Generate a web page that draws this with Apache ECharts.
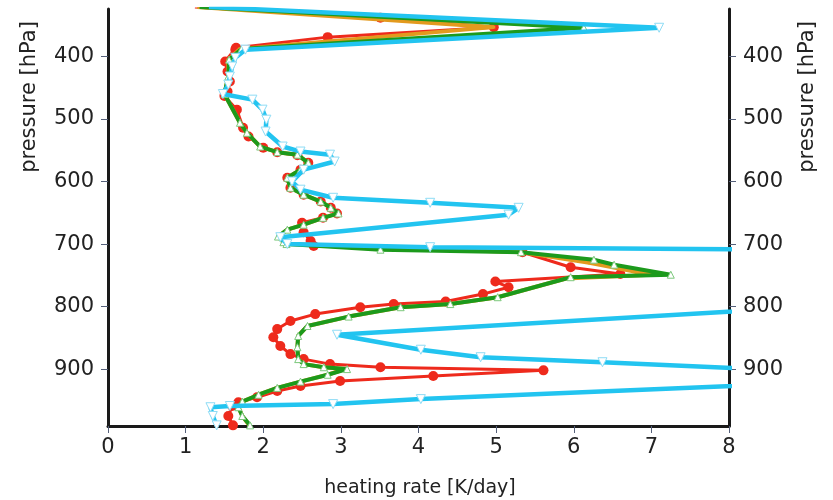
<!DOCTYPE html>
<html><head><meta charset="utf-8">
<script src="https://cdn.jsdelivr.net/npm/echarts@6/dist/echarts.min.js"></script>
<style>html,body{margin:0;padding:0;background:#fff}#c{width:833px;height:500px}</style>
</head><body><div id="c"></div>
<script>
// tick labels
const xTicks = [0, 1, 2, 3, 4, 5, 6, 7, 8];
const pTicks = [400, 500, 600, 700, 800, 900];
const xName = 'heating rate [K/day]';
const yName = 'pressure [hPa]';

// cyan series (pressure hPa, heating rate K/day)
const pCyan = [321, 354, 389, 402, 416, 432, 445, 460, 469, 485, 501, 520, 544, 552, 557, 568, 581, 600, 613, 626, 634, 642, 653, 689, 700, 705, 719, 845, 869, 881, 889, 913, 948, 956, 959, 961, 975, 990];
const hCyan = [1.30, 7.10, 1.77, 1.64, 1.60, 1.57, 1.55, 1.48, 1.86, 1.99, 2.04, 2.03, 2.25, 2.48, 2.86, 2.92, 2.52, 2.37, 2.48, 2.90, 4.15, 5.29, 5.16, 2.22, 2.31, 4.15, 20.2, 2.95, 4.03, 4.80, 6.37, 10.7, 4.03, 2.90, 1.57, 1.32, 1.35, 1.40];

// red series
const pRed = [321, 338, 353, 369, 386, 389, 408, 424, 440, 456, 463, 485, 514, 528, 546, 553, 558, 570, 581, 594, 610, 621, 632, 642, 651, 658, 666, 681, 695, 703, 713, 737, 748, 760, 769, 780, 792, 796, 801, 812, 823, 836, 849, 863, 876, 884, 892, 897, 902, 911, 919, 927, 935, 945, 953, 959, 975, 990];
const hRed = [1.12, 3.51, 4.97, 2.83, 1.65, 1.64, 1.51, 1.54, 1.57, 1.54, 1.50, 1.66, 1.74, 1.81, 2.00, 2.18, 2.44, 2.58, 2.48, 2.31, 2.35, 2.52, 2.74, 2.87, 2.95, 2.77, 2.50, 2.52, 2.61, 2.65, 5.34, 5.96, 6.60, 4.99, 5.16, 4.83, 4.35, 3.68, 3.25, 2.67, 2.35, 2.18, 2.13, 2.22, 2.35, 2.52, 2.86, 3.51, 5.61, 4.19, 2.99, 2.48, 2.18, 1.92, 1.68, 1.60, 1.55, 1.61];

// orange series
const pOrange = [321, 353, 388, 405, 432, 460, 506, 522, 544, 553, 557, 570, 581, 594, 610, 621, 632, 642, 651, 658, 669, 677, 688, 697, 700, 713, 730, 749, 755, 785, 796, 801, 816, 831, 847, 865, 884, 892, 897, 900, 909, 920, 930, 941, 952, 961, 975, 990];
const hOrange = [1.15, 4.97, 1.70, 1.55, 1.55, 1.50, 1.70, 1.79, 1.96, 2.18, 2.44, 2.58, 2.48, 2.31, 2.35, 2.52, 2.74, 2.87, 2.96, 2.77, 2.52, 2.31, 2.19, 2.26, 2.30, 5.33, 6.20, 7.00, 5.90, 5.02, 4.41, 3.77, 3.10, 2.57, 2.45, 2.44, 2.45, 2.52, 2.78, 3.05, 2.83, 2.48, 2.18, 1.94, 1.73, 1.68, 1.73, 1.82];

// green series
const pGreen = [321, 354, 388, 405, 432, 460, 506, 522, 544, 553, 557, 570, 581, 594, 610, 621, 632, 642, 651, 658, 669, 677, 688, 697, 700, 709, 713, 725, 733, 749, 753, 785, 796, 801, 816, 831, 847, 865, 884, 892, 897, 900, 909, 920, 930, 941, 952, 961, 975, 990];
const hGreen = [1.18, 6.13, 1.72, 1.56, 1.55, 1.50, 1.70, 1.79, 1.96, 2.18, 2.44, 2.58, 2.48, 2.31, 2.35, 2.52, 2.74, 2.87, 2.97, 2.77, 2.52, 2.31, 2.19, 2.26, 2.30, 3.51, 5.32, 6.26, 6.52, 7.25, 5.96, 5.02, 4.41, 3.77, 3.10, 2.57, 2.45, 2.44, 2.45, 2.52, 2.78, 3.08, 2.83, 2.48, 2.18, 1.94, 1.73, 1.68, 1.73, 1.83];

function pairs(h, p) { return h.map((v, i) => [v, p[i]]); }

const FONT = 'DejaVu Sans';
const axisLineStyle = { color: '#1a1a1a', width: 3 };
const tickStyle = { color: '#55607a', width: 1 };

function yAxisDef(pos) {
  return {
    type: 'value', position: pos, inverse: true, min: 324, max: 991,
    axisLine: { show: true, onZero: false, lineStyle: axisLineStyle },
    axisTick: { show: true, inside: false, length: 7, customValues: pTicks, lineStyle: tickStyle },
    axisLabel: { show: true, customValues: pTicks, margin: 14, fontFamily: FONT, fontSize: 21, color: '#222' },
    splitLine: { show: false }
  };
}

const chart = echarts.init(document.getElementById('c'), null, { renderer: 'canvas' });
chart.setOption({
  animation: false,
  backgroundColor: '#ffffff',
  grid: { left: 108, right: 104, top: 9, bottom: 74, containLabel: false },
  xAxis: {
    type: 'value', min: 0, max: 8, interval: 1,
    axisLine: { show: true, onZero: false, lineStyle: axisLineStyle },
    axisTick: { show: true, inside: false, length: 7, lineStyle: tickStyle },
    axisLabel: { margin: 11, fontFamily: FONT, fontSize: 21, color: '#222',
      formatter: v => xTicks.indexOf(v) >= 0 ? String(v) : '' },
    splitLine: { show: false }
  },
  yAxis: [yAxisDef('left'), yAxisDef('right')],
  graphic: [
    { type: 'text', x: 30, y: 97, rotation: Math.PI / 2,
      style: { text: yName, fontFamily: FONT, fontSize: 21, fill: '#222', align: 'center', verticalAlign: 'middle' } },
    { type: 'text', x: 808, y: 97, rotation: Math.PI / 2,
      style: { text: yName, fontFamily: FONT, fontSize: 21, fill: '#222', align: 'center', verticalAlign: 'middle' } },
    { type: 'text', x: 420, y: 488,
      style: { text: xName, fontFamily: FONT, fontSize: 19, fill: '#222', align: 'center', verticalAlign: 'middle' } }
  ],
  series: [
    { type: 'line', name: 'red', data: pairs(hRed, pRed), z: 2, clip: true,
      lineStyle: { color: '#ee2a1c', width: 3 }, itemStyle: { color: '#ee2a1c' },
      symbol: 'circle', symbolSize: 10, showSymbol: true },
    { type: 'line', name: 'orange', data: pairs(hOrange, pOrange), z: 3, clip: true,
      lineStyle: { color: '#e39a1e', width: 4 }, itemStyle: { color: '#e39a1e' },
      symbol: 'rect', symbolSize: 3, showSymbol: true },
    { type: 'line', name: 'green', data: pairs(hGreen, pGreen), z: 4, clip: true,
      lineStyle: { color: '#1c9a1c', width: 4 }, itemStyle: { color: '#ffffff', borderColor: '#7cc87c', borderWidth: 1 },
      symbol: 'triangle', symbolSize: 7, showSymbol: true },
    { type: 'line', name: 'cyan', data: pairs(hCyan, pCyan), z: 5, clip: true,
      lineStyle: { color: '#22c4f0', width: 4.5 }, itemStyle: { color: '#ffffff', borderColor: '#8edcf5', borderWidth: 1 },
      symbol: 'triangle', symbolRotate: 180, symbolSize: 9, showSymbol: true }
  ]
});
</script>
</body></html>
